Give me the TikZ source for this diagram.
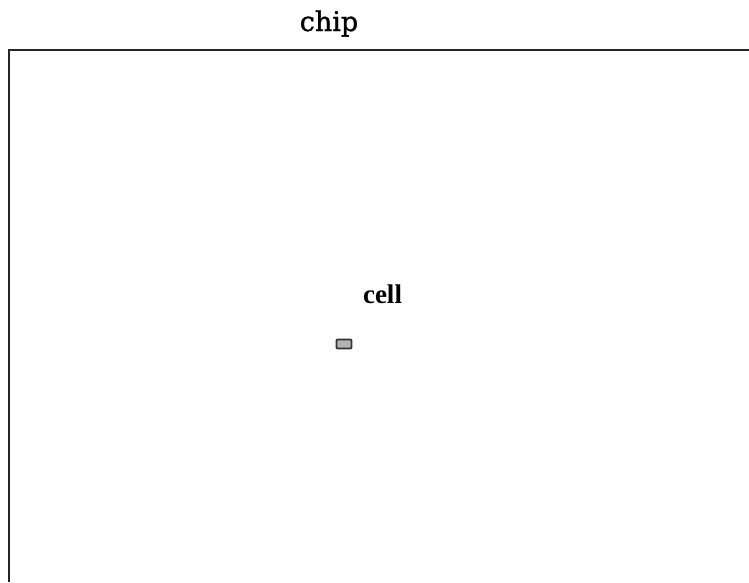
\documentclass[tikz,border=0pt]{standalone}
\usepackage{fontspec}
\setmainfont{Liberation Serif}
\newfontfamily\chipfont[FakeBold=1.2]{DejaVu Serif}
\begin{document}
\begin{tikzpicture}[x=1pt,y=-1pt,
  lbl/.style={inner sep=0pt,anchor=base},
  edge/.style={line width=2.8pt,draw=black!85},
  cellbox/.style={draw=black!80,fill=black!30,line width=1.8pt,rounded corners=1pt,inner sep=0pt,minimum width=15pt,minimum height=9pt}]
\useasboundingbox (0,0) rectangle (749,582);
\node[lbl,font=\chipfont\fontsize{27}{30}\selectfont] (chiplabel) at (329,31) {chip};
\coordinate (tl) at (9,50);
\coordinate (tr) at (749,50);
\coordinate (bl) at (9,582);
\draw[edge] (bl) -- (tl) -- (tr);
\node[cellbox] (cell) at (344,344) {};
\node[lbl,font=\fontsize{27}{30}\selectfont\bfseries] (celllabel) at (382.5,303) {cell};
\end{tikzpicture}
\end{document}
